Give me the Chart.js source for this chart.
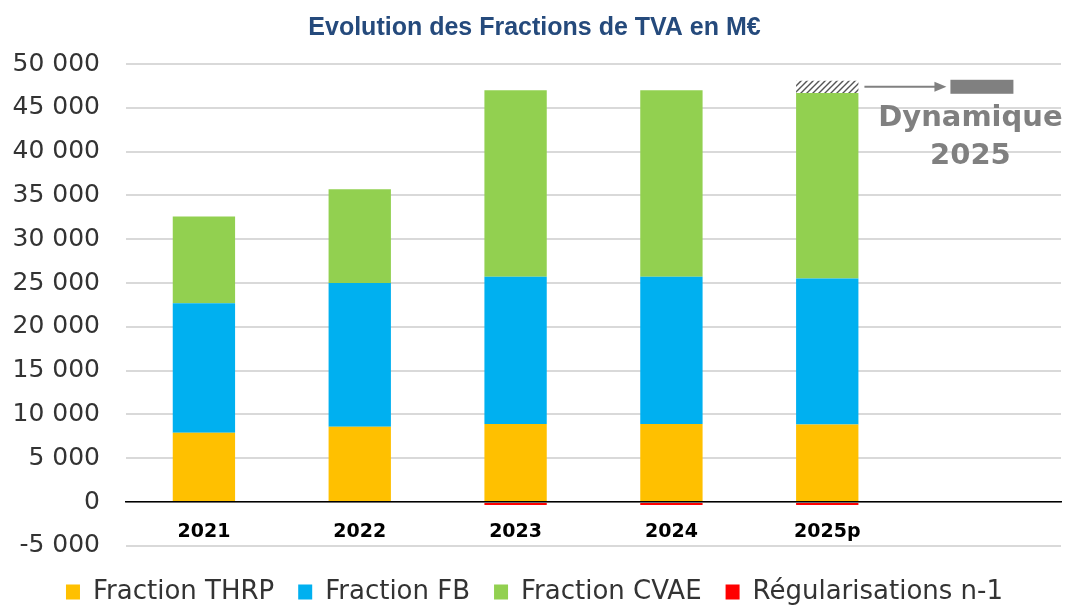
<!DOCTYPE html>
<html>
<head>
<meta charset="utf-8">
<script src="https://cdn.jsdelivr.net/npm/chart.js@4.4.1/dist/chart.umd.min.js"></script>
<style>
  html, body { margin: 0; padding: 0; background: #fff; }
  #wrap { width: 1067px; height: 605px; position: relative; }
</style>
</head>
<body>
<div id="wrap"><canvas id="tva"></canvas></div>
<script>
/* Fractions de TVA (M€) */
var years = ['2021', '2022', '2023', '2024', '2025p', ''];
var thrp = [7900, 8600, 8900, 8900, 8850, null];
var fb = [14800, 16400, 16800, 16800, 16650, null];
var cvae = [9900, 10700, 21300, 21300, 21200, null];
var regul = [0, 0, -350, -350, -350, null];
var dynamique = [null, null, null, null, 1400, null];

var C = {
  thrp: '#FFC000', fb: '#00B0F0', cvae: '#92D050', regul: '#FF0000',
  grid: '#d9d9d9', title: '#254a7c', text: '#333333', annot: '#808080'
};

/* hatched fill for the 2025 dynamic part */
function hatch() {
  var c = document.createElement('canvas');
  c.width = 6; c.height = 6;
  var g = c.getContext('2d');
  g.fillStyle = '#fff';
  g.fillRect(0, 0, 6, 6);
  g.strokeStyle = '#555';
  g.lineWidth = 1.4;
  g.beginPath();
  g.moveTo(0, 6); g.lineTo(6, 0);
  g.moveTo(-1, 1); g.lineTo(1, -1);
  g.moveTo(5, 7); g.lineTo(7, 5);
  g.stroke();
  return g.createPattern(c, 'repeat');
}

function fmt(v) { return String(v).replace(/\B(?=(\d{3})+(?!\d))/g, ' '); }

/* arrow + grey box + "Dynamique 2025" next to the hatched bar */
var dynNote = {
  id: 'dynNote',
  afterDatasetsDraw: function (chart) {
    var bar = chart.getDatasetMeta(4).data[4];
    if (!bar) return;
    var ctx = chart.ctx;
    var right = bar.x + bar.width / 2;
    var midY = (bar.y + bar.base) / 2;
    ctx.save();
    ctx.strokeStyle = C.annot;
    ctx.fillStyle = C.annot;
    ctx.lineWidth = 2;
    ctx.beginPath();
    ctx.moveTo(right + 6, midY);
    ctx.lineTo(right + 80, midY);
    ctx.stroke();
    ctx.beginPath();
    ctx.moveTo(right + 88, midY);
    ctx.lineTo(right + 76, midY - 5);
    ctx.lineTo(right + 76, midY + 5);
    ctx.closePath();
    ctx.fill();
    ctx.fillRect(right + 92, midY - 7, 63, 14);
    ctx.font = 'bold 29px "DejaVu Sans"';
    ctx.textAlign = 'center';
    ctx.textBaseline = 'middle';
    ctx.fillText('Dynamique', right + 112, midY + 32);
    ctx.fillText('2025', right + 112, midY + 70);
    ctx.restore();
  }
};

new Chart(document.getElementById('tva'), {
  type: 'bar',
  data: {
    labels: years,
    datasets: [
      { label: 'Fraction THRP', data: thrp, backgroundColor: C.thrp },
      { label: 'Fraction FB', data: fb, backgroundColor: C.fb },
      { label: 'Fraction CVAE', data: cvae, backgroundColor: C.cvae },
      { label: 'Régularisations n-1', data: regul, backgroundColor: C.regul },
      { label: 'Dynamique 2025', data: dynamique, backgroundColor: hatch() }
    ]
  },
  options: {
    responsive: true,
    maintainAspectRatio: false,
    animation: false,
    datasets: { bar: { categoryPercentage: 1, barPercentage: 0.4 } },
    layout: { padding: { left: 8, right: 6, top: 0, bottom: -10 } },
    plugins: {
      tooltip: { enabled: false },
      title: {
        display: true,
        text: 'Evolution des Fractions de TVA en M€',
        color: C.title,
        font: { family: '"Liberation Sans", sans-serif', size: 25, weight: 'bold' },
        padding: { top: 13, bottom: 21 }
      },
      legend: {
        position: 'bottom',
        /* empty title only used as spacer above the legend row */
        title: { display: true, text: '', font: { size: 1 }, padding: 4 },
        labels: {
          filter: function (item) { return item.datasetIndex !== 4; },
          boxWidth: 14, boxHeight: 15, padding: 24,
          color: '#333333',
          font: { family: '"DejaVu Sans"', size: 26 }
        }
      }
    },
    scales: {
      x: {
        stacked: true,
        position: { y: 0 },
        grid: { display: false },
        border: { display: true, color: '#000', width: 1.5 },
        ticks: { color: '#000', padding: 11, font: { family: '"DejaVu Sans"', size: 19, weight: 'bold' } }
      },
      y: {
        stacked: true,
        min: -5000, max: 50000,
        afterFit: function (scale) { scale.width = 118; },
        grid: { color: C.grid, lineWidth: 2, drawTicks: false },
        border: { display: false },
        ticks: {
          stepSize: 5000, padding: 26, color: C.text,
          font: { family: '"DejaVu Sans"', size: 25 },
          callback: function (v) { return fmt(v); }
        }
      }
    }
  },
  plugins: [dynNote]
});
</script>
</body>
</html>
